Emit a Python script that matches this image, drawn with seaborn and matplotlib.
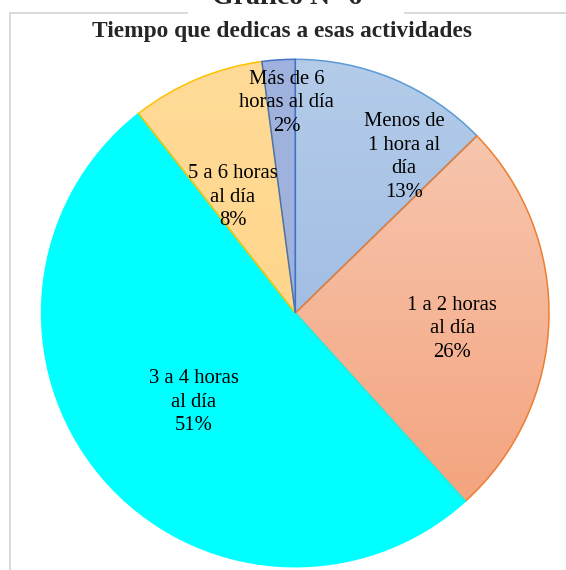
import numpy as np
import seaborn as sns
import matplotlib.pyplot as plt
from matplotlib.patches import Rectangle
from matplotlib.colors import LinearSegmentedColormap

# datos
categorias = ['Menos de\n1 hora al\ndía', '1 a 2 horas\nal día', '3 a 4 horas\nal día',
              '5 a 6 horas\nal día', 'Más de 6\nhoras al día']
participacion = [12.7, 25.6, 51.1, 8.5, 2.1]
porcentajes = ['13%', '26%', '51%', '8%', '2%']

titulo = 'Tiempo que dedicas a esas actividades'
encabezado = 'Gráfico N° 6'

# estilo
colores_top = ['#b4cce9', '#f7c6ae', '#00ffff', '#ffdb98', '#9fb2de']
colores_bottom = ['#a2bee4', '#f4a47f', '#00ffff', '#ffd68c', '#9fb2de']
bordes = ['#5b9bd5', '#ed7d31', '#00ffff', '#ffc000', '#4472c4']
pos_etiquetas = [(0.428, 0.615), (0.618, -0.063), (-0.400, -0.351), (-0.246, 0.457), (-0.033, 0.828)]

sns.set_style('white')
plt.rcParams['font.family'] = ['Liberation Serif', 'DejaVu Serif']

fig = plt.figure(figsize=(5.66, 5.70), dpi=100)
ax = fig.add_axes([41.6 / 566, 3.3 / 570, 507.4 / 566, 507.4 / 570])

wedges, _ = ax.pie(participacion, startangle=90, counterclock=False,
                   colors=colores_top, wedgeprops=dict(linewidth=1.1))
ax.set_xlim(-1, 1)
ax.set_ylim(-1, 1)
ax.set_aspect('equal')
ax.axis('off')

# relleno degradado vertical en cada sector
for w, ct, cb, ec in zip(wedges, colores_top, colores_bottom, bordes):
    w.set_edgecolor(ec)
    w.set_zorder(3)
    bb = w.get_path().get_extents()
    cmap = LinearSegmentedColormap.from_list('g', [cb, ct])
    grad = np.linspace(0, 1, 256).reshape(-1, 1)
    im = ax.imshow(grad, cmap=cmap, origin='lower', aspect='auto',
                   extent=[bb.x0, bb.x1, bb.y0, bb.y1], zorder=2)
    im.set_clip_path(w)
    w.set_facecolor('none')

for (x, y), cat, p in zip(pos_etiquetas, categorias, porcentajes):
    ax.text(x, y, f'{cat}\n{p}', ha='center', va='center', fontsize=14.9,
            linespacing=1.33, color='#000000', zorder=5)

# marco del gráfico
fig.add_artist(Rectangle((10 / 566, -0.1), 1.2, (570 - 12.7) / 570 + 0.1,
                         transform=fig.transFigure, fill=False,
                         edgecolor='#d9d9d9', linewidth=1.4, zorder=0))
fig.add_artist(Rectangle((188 / 566, (570 - 20) / 570), (404 - 188) / 566, 30 / 570,
                         transform=fig.transFigure, facecolor='white',
                         edgecolor='none', zorder=1))
fig.text(287 / 566, (570 - 4) / 570, encabezado, ha='center', va='baseline',
         fontsize=20, fontweight='bold', zorder=2)
fig.text(282 / 566, (570 - 37.5) / 570, titulo, ha='center', va='baseline',
         fontsize=16.8, fontweight='bold')

fig.savefig('out.png', dpi=100)
